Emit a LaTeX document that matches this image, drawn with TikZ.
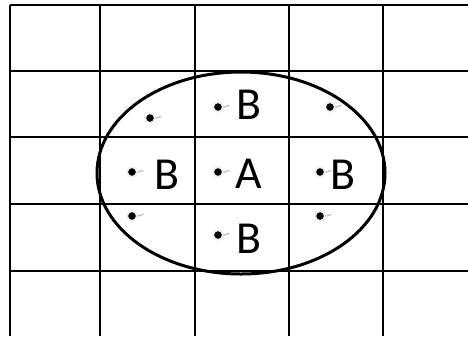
\documentclass[tikz,border=0pt]{standalone}
\usepackage{fontspec}
\setmainfont{Carlito}
\begin{document}
\begin{tikzpicture}[x=1bp, y=-1bp,
	gridline/.style={line width=1.6bp, black},
	dot/.style={circle, fill=black, draw=gray!12, line width=2bp, inner sep=0pt, minimum size=10bp},
	tail/.style={gray!45, line width=1.5bp, line cap=round},
	lbl/.style={inner sep=0pt, font=\fontsize{46}{50}\selectfont}]
	
	\useasboundingbox (0,0) rectangle (468,336);
	
	% Grid lines
	\foreach \x in {10, 100, 195, 289, 383} {
		\draw[gridline] (\x,5) -- (\x,336);
	}
	\foreach \y in {5, 71, 137, 204, 271} {
		\draw[gridline] (10,\y) -- (468,\y);
	}
	
	% Neighbourhood ellipse
	\draw[line width=3bp] (241,173) ellipse [x radius=144, y radius=101];
	
	% Dots with their little grey tails
	\foreach \name/\x/\y in {nw/150/118, n/218/107, ne/330/107, w/132/172, c/218/172, e/320/172, sw/132/216, se/320/216, s/218/235} {
		\node[dot] (d\name) at (\x,\y) {};
		\draw[tail] (d\name.east) -- ++(5,-1.5);
	}
	
	% Labels
	\node[lbl] (bn) at (249,105) {B};
	\node[lbl] (bw) at (167,175) {B};
	\node[lbl] (a) at (249,174) {A};
	\node[lbl] (be) at (343,175) {B};
	\node[lbl] (bs) at (249,239) {B};
	
\end{tikzpicture}
\end{document}
